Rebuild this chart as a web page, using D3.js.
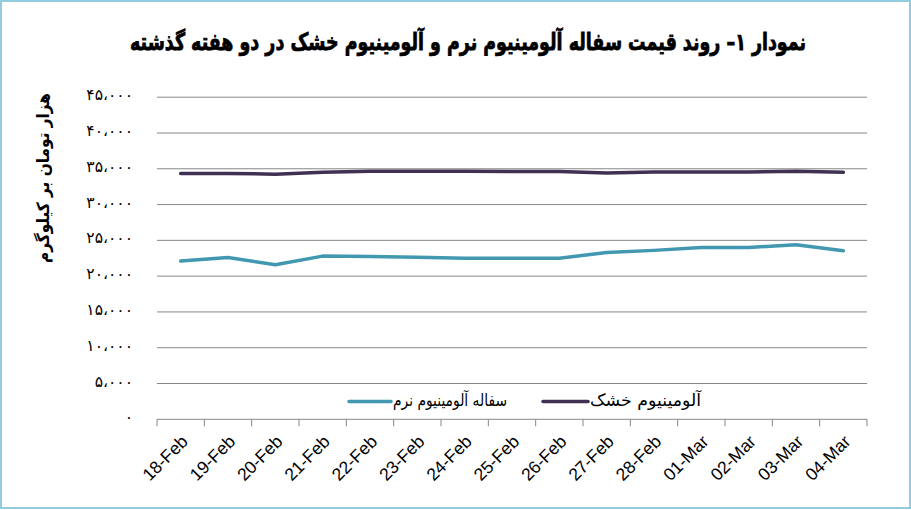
<!DOCTYPE html>
<html>
<head>
<meta charset="utf-8">
<script src="https://cdn.jsdelivr.net/npm/d3@7"></script>
<style>
  html, body { margin: 0; padding: 0; background: #fff; }
  svg { display: block; }
</style>
</head>
<body>
<svg id="chart" width="911" height="510"></svg>
<script>
const categories = ["18-Feb","19-Feb","20-Feb","21-Feb","22-Feb","23-Feb","24-Feb","25-Feb","26-Feb","27-Feb","28-Feb","01-Mar","02-Mar","03-Mar","04-Mar"];
const softScrap = [22100, 22600, 21600, 22800, 22750, 22650, 22500, 22500, 22500, 23300, 23600, 24000, 24000, 24400, 23550];
const dryAlum = [34350, 34350, 34250, 34500, 34650, 34650, 34650, 34630, 34630, 34400, 34550, 34550, 34550, 34650, 34500];
const yTicks = [0, 5000, 10000, 15000, 20000, 25000, 30000, 35000, 40000, 45000];
const seriesNames = ["سفاله آلومینیوم نرم", "آلومینیوم خشک"];
const titleText = "نمودار ۱– روند قیمت سفاله آلومینیوم نرم و آلومینیوم خشک  در دو هفته گذشته";
const yTitle = "هزار تومان بر کیلوگرم";

const colors = ["#4198B0", "#403152"];
const faDigits = "۰۱۲۳۴۵۶۷۸۹";
function toFa(n) {
  const s = d3.format(",")(n).replace(/,/g, "،");
  return s.replace(/[0-9]/g, d => faDigits[+d]);
}

const svg = d3.select("#chart");
const plotLeft = 157, plotRight = 867, plotTop = 97.2, plotBottom = 419.3;

// border
svg.append("rect").attr("x", 1).attr("y", 1).attr("width", 909).attr("height", 507)
  .attr("fill", "#fff").attr("stroke", "#93CDDD").attr("stroke-width", 2);

const x = d3.scaleBand().domain(categories).range([plotLeft, plotRight]);
const y = d3.scaleLinear().domain([0, 45000]).range([plotBottom, plotTop]);

// gridlines
svg.append("g").selectAll("line").data(yTicks.filter(d => d > 0)).join("line")
  .attr("x1", plotLeft).attr("x2", plotRight)
  .attr("y1", d => y(d)).attr("y2", d => y(d))
  .attr("stroke", "#878787").attr("stroke-width", 1);

// y labels
svg.append("g").selectAll("text").data(yTicks).join("text")
  .attr("x", 133).attr("y", d => y(d) - 1.5)
  .attr("text-anchor", "end").attr("dominant-baseline", "middle")
  .attr("font-family", "DejaVu Sans, sans-serif").attr("font-size", 15.5)
  .attr("fill", "#000")
  .attr("direction", "ltr")
  .text(d => toFa(d));

// x axis
const xAxisG = svg.append("g");
xAxisG.append("line").attr("x1", plotLeft).attr("x2", plotRight).attr("y1", plotBottom).attr("y2", plotBottom)
  .attr("stroke", "#878787").attr("stroke-width", 1);
const bounds = categories.map(c => x(c)).concat([plotRight]);
xAxisG.selectAll("line.tick").data(bounds).join("line").attr("class", "tick")
  .attr("x1", d => d).attr("x2", d => d).attr("y1", plotBottom).attr("y2", plotBottom + 7)
  .attr("stroke", "#878787").attr("stroke-width", 1);
xAxisG.selectAll("text").data(categories).join("text")
  .attr("transform", d => `translate(${x(d) + x.bandwidth() / 2 + 5},${plotBottom + 20}) rotate(-45)`)
  .attr("text-anchor", "end").attr("dominant-baseline", "middle")
  .attr("font-family", "Liberation Sans, Arial, sans-serif").attr("font-size", 17.5)
  .attr("fill", "#000")
  .text(d => d);

// lines
const line = d3.line()
  .x((d, i) => x(categories[i]) + x.bandwidth() / 2)
  .y(d => y(d));
[softScrap, dryAlum].forEach((s, k) => {
  svg.append("path").datum(s).attr("d", line)
    .attr("fill", "none").attr("stroke", colors[k]).attr("stroke-width", 3.5)
    .attr("stroke-linejoin", "round").attr("stroke-linecap", "round");
});

// legend
const legendY = 401.5;
const legendItems = [
  { x1: 349, x2: 391, tx: 507, name: seriesNames[0], c: colors[0] },
  { x1: 543, x2: 588, tx: 701, name: seriesNames[1], c: colors[1] }
];
legendItems.forEach(it => {
  svg.append("line").attr("x1", it.x1).attr("x2", it.x2).attr("y1", legendY).attr("y2", legendY)
    .attr("stroke", it.c).attr("stroke-width", 3.5).attr("stroke-linecap", "round");
  svg.append("text").attr("x", it.tx).attr("y", legendY - 1)
    .attr("text-anchor", "end").attr("dominant-baseline", "middle")
    .attr("font-family", "DejaVu Sans, sans-serif").attr("font-size", 17)
    .attr("textLength", it.tx - it.x2 - 2).attr("lengthAdjust", "spacingAndGlyphs")
    .attr("fill", "#000")
    .text(it.name);
});

// y title
svg.append("text")
  .attr("transform", "translate(44,178) rotate(-90)")
  .attr("text-anchor", "middle").attr("dominant-baseline", "middle")
  .attr("font-family", "DejaVu Sans, sans-serif").attr("font-weight", "bold").attr("font-size", 17)
  .attr("textLength", 170).attr("lengthAdjust", "spacingAndGlyphs")
  .attr("fill", "#000")
  .text(yTitle);

// title: fit to reference width, stretched vertically to mimic the condensed heavy face
const tg = svg.append("g").attr("transform", "translate(468,50) scale(1,1.35)");
const t = tg.append("text")
  .attr("x", 0).attr("y", 0)
  .attr("text-anchor", "middle")
  .attr("font-family", "DejaVu Sans, sans-serif").attr("font-weight", "bold").attr("font-size", 20)
  .attr("fill", "#000").attr("stroke", "#000").attr("stroke-width", 0.6)
  .text(titleText);
const w = t.node().getComputedTextLength();
if (w > 0) t.attr("font-size", 20 * 676 / w);
</script>
</body>
</html>
